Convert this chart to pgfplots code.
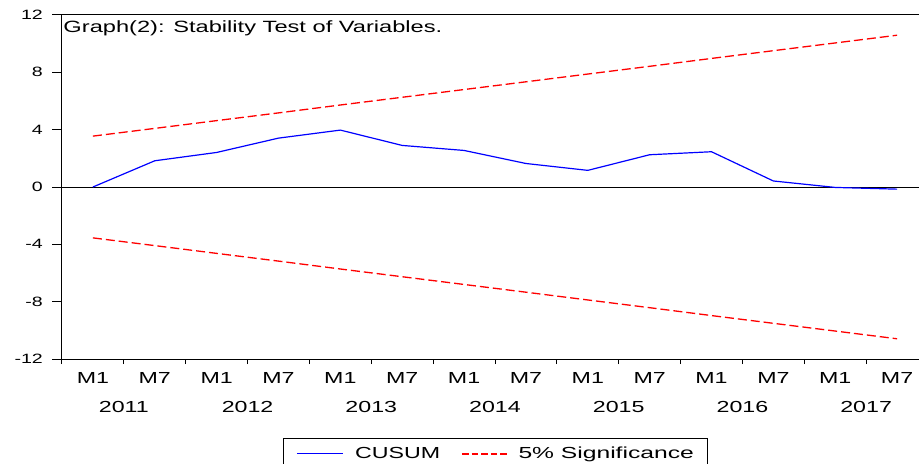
\documentclass[border=0pt]{standalone}
\usepackage{fontspec}
\setmainfont[FakeStretch=1.45]{Liberation Sans}
\newfontfamily\widerfont[FakeStretch=1.54]{Liberation Sans}
\usepackage{pgfplots}
\pgfplotsset{compat=1.18}
\definecolor{cblue}{RGB}{0,0,255}
\definecolor{cred}{RGB}{255,0,0}
\newcommand{\dsh}{\rule[4.05bp]{6.6bp}{1.3bp}}
\begin{document}
\begin{tikzpicture}
\begin{axis}[
  scale only axis, width=866bp, height=344bp,
  xmin=-0.5, xmax=13.5, ymin=-12, ymax=12,
  axis line style={line width=1bp, black},
  tick style={black, line width=1bp},
  tick align=outside,
  xtick pos=left, ytick pos=left,
  major tick length=10bp,
  minor tick length=5bp,
  xtick={0,1,2,3,4,5,6,7,8,9,10,11,12,13},
  xticklabels={M1,M7,M1,M7,M1,M7,M1,M7,M1,M7,M1,M7,M1,M7},
  major x tick style={draw=none},
  minor xtick={-0.5,0.5,1.5,2.5,3.5,4.5,5.5,6.5,7.5,8.5,9.5,10.5,11.5,12.5,13.5},
  xticklabel style={font=\fontsize{16bp}{19bp}\selectfont, inner sep=0pt, yshift=-3bp},
  extra x ticks={0.5,2.5,4.5,6.5,8.5,10.5,12.5},
  extra x tick labels={2011,2012,2013,2014,2015,2016,2017},
  extra x tick style={major x tick style={draw=none}, xticklabel style={yshift=-29.4bp}},
  ytick={-12,-8,-4,0,4,8,12},
  yticklabels={-12,-8,-4,0,4,8,12},
  yticklabel style={font=\fontsize{13.5bp}{16bp}\selectfont, inner sep=0pt, xshift=-9bp},
  legend columns=2,
  legend image code/.code={},
  legend style={at={(0,0)}, anchor=north west, xshift=221.3bp, yshift=-79.3bp,
    inner xsep=11.4bp, inner ysep=6.5bp,
    font=\fontsize{16bp}{19bp}\selectfont,
    /tikz/every odd column/.append style={column sep=0bp},
    /tikz/every even column/.append style={column sep=17.7bp}},
]
\coordinate (sw) at (rel axis cs:0,0);
\coordinate (ne) at (rel axis cs:1,1);
\addplot[black, line width=1bp, forget plot] coordinates {(-0.5,0) (13.5,0)};
\addplot[color=cblue, line width=1.2bp]
  coordinates {(0,0) (1,1.83) (2,2.41) (3,3.41) (4,3.97) (5,2.90) (6,2.55) (7,1.64) (8,1.16) (9,2.25) (10,2.46) (11,0.42) (12,-0.03) (13,-0.15)};
\addlegendentry{{\color{white}\rule{0pt}{0pt}}{\color{cblue}\rule[4.0bp]{46.6bp}{1.4bp}}\hspace{11.7bp}CUSUM}
\addplot[color=cred, line width=1.3bp, dash pattern=on 9bp off 4bp]
  coordinates {(0,3.55) (1,4.09) (2,4.63) (3,5.17) (4,5.72) (5,6.26) (6,6.80) (7,7.34) (8,7.88) (9,8.42) (10,8.97) (11,9.51) (12,10.05) (13,10.59)};
\addlegendentry{{\color{cred}\dsh\hspace{3bp}\dsh\hspace{3bp}\dsh\hspace{3bp}\dsh\hspace{3bp}\dsh}\hspace{11.6bp}{\widerfont 5\% Significance}}
\addplot[color=cred, line width=1.3bp, dash pattern=on 9bp off 4bp, forget plot]
  coordinates {(0,-3.55) (1,-4.09) (2,-4.63) (3,-5.17) (4,-5.72) (5,-6.26) (6,-6.80) (7,-7.34) (8,-7.88) (9,-8.42) (10,-8.97) (11,-9.51) (12,-10.05) (13,-10.59)};
\node[anchor=base west, inner sep=0pt, font=\fontsize{16.3bp}{19bp}\selectfont, xshift=1.3bp, yshift=-17.3bp] at (rel axis cs:0,1) {Graph(2): Stability Test of Variables.};
\end{axis}
\pgfresetboundingbox
\path[use as bounding box] ([xshift=-62bp,yshift=-105bp]sw) rectangle ([xshift=-9bp,yshift=15bp]ne);
\end{tikzpicture}
\end{document}
